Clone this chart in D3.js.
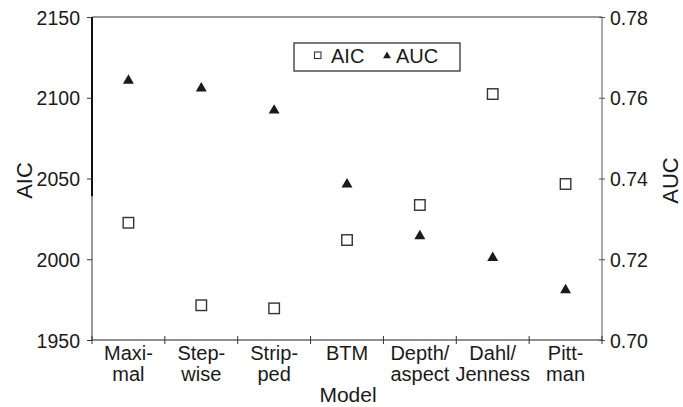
<!DOCTYPE html>
<html>
<head>
<meta charset="utf-8">
<script src="https://cdn.jsdelivr.net/npm/d3@7"></script>
<style>
  html, body { margin: 0; padding: 0; background: #fff; }
  svg { display: block; font-family: "Liberation Sans", Arial, Helvetica, sans-serif; }
</style>
</head>
<body>
<svg id="chart" width="683" height="407"></svg>
<script>
const categories = ["Maxi-\nmal", "Step-\nwise", "Strip-\nped", "BTM", "Depth/\naspect", "Dahl/\nJenness", "Pitt-\nman"];
const aicValues = [2022.6, 1971.5, 1969.6, 2011.9, 2033.6, 2102.3, 2046.6];
const aucValues = [0.7645, 0.7626, 0.7571, 0.7388, 0.7260, 0.7206, 0.7126];
const aicTicks = [1950, 2000, 2050, 2100, 2150];
const aucTicks = [0.70, 0.72, 0.74, 0.76, 0.78];

const svg = d3.select("#chart");
const L = 92, R = 602, T = 17, B = 340;
const ink = "#1a1a1a";

const x = d3.scaleBand().domain(categories).range([L, R]).padding(0);
const yAIC = d3.scaleLinear().domain([1950, 2150]).range([B, T]);
const yAUC = d3.scaleLinear().domain([0.70, 0.78]).range([B, T]);

// frame
svg.append("line").attr("x1", L).attr("x2", R).attr("y1", T).attr("y2", T).attr("stroke", "#333").attr("stroke-width", 1);
svg.append("line").attr("x1", L).attr("x2", R).attr("y1", B).attr("y2", B).attr("stroke", "#222").attr("stroke-width", 1.2);
svg.append("line").attr("x1", R).attr("x2", R).attr("y1", T).attr("y2", B).attr("stroke", "#555").attr("stroke-width", 1);
svg.append("line").attr("x1", L).attr("x2", L).attr("y1", T).attr("y2", B).attr("stroke", "#333").attr("stroke-width", 1);
// darker upper part of left axis as in reference
svg.append("line").attr("x1", L).attr("x2", L).attr("y1", T).attr("y2", yAIC(2039)).attr("stroke", "#111").attr("stroke-width", 2);

// left axis
const gl = svg.append("g").attr("transform", `translate(${L},0)`)
  .call(d3.axisLeft(yAIC).tickValues(aicTicks).tickFormat(d3.format("d")).tickSize(5).tickPadding(7));
gl.select(".domain").remove();
gl.selectAll(".tick line").attr("stroke", "#333");
gl.selectAll(".tick text").attr("fill", ink).style("font-size", "19.5px").attr("dy", "0.36em");

// right axis
const gr = svg.append("g").attr("transform", `translate(${R},0)`)
  .call(d3.axisRight(yAUC).tickValues(aucTicks).tickFormat(d3.format(".2f")).tickSize(3).tickPadding(5));
gr.select(".domain").remove();
gr.selectAll(".tick line").attr("x1", -3).attr("x2", 3).attr("stroke", "#555");
gr.selectAll(".tick text").attr("fill", ink).style("font-size", "19.5px").attr("dy", "0.36em");

// bottom axis: boundary ticks crossing the axis
svg.append("g").selectAll("line").data(categories.concat([null])).join("line")
  .attr("x1", d => d === null ? R : x(d)).attr("x2", d => d === null ? R : x(d))
  .attr("y1", B - 4).attr("y2", B + 4).attr("stroke", "#333");

const gb = svg.append("g").attr("transform", `translate(0,${B})`)
  .call(d3.axisBottom(x).tickSize(0).tickPadding(0));
gb.select(".domain").remove();
gb.selectAll(".tick text").each(function(d) {
  const t = d3.select(this).text(null).attr("fill", ink).style("font-size", "20px").attr("y", 0).attr("dy", null);
  d.split("\n").forEach((line, i) => {
    t.append("tspan").attr("x", 0).attr("y", 20 + i * 21).text(line);
  });
});

// axis titles
svg.append("text").attr("transform", `translate(32,${(T + B) / 2 + 2}) rotate(-90)`)
  .attr("text-anchor", "middle").attr("fill", ink).style("font-size", "22px").text("AIC");
svg.append("text").attr("transform", `translate(678,${(T + B) / 2 + 2}) rotate(-90)`)
  .attr("text-anchor", "middle").attr("fill", ink).style("font-size", "22px").text("AUC");
svg.append("text").attr("x", (L + R) / 2 + 1).attr("y", 402)
  .attr("text-anchor", "middle").attr("fill", ink).style("font-size", "21px").text("Model");

// markers
const sq = 10.5;
svg.append("g").selectAll("rect").data(aicValues).join("rect")
  .attr("x", (d, i) => x(categories[i]) + x.bandwidth() / 2 - sq / 2)
  .attr("y", d => yAIC(d) - sq / 2)
  .attr("width", sq).attr("height", sq)
  .attr("fill", "#fff").attr("stroke", "#333").attr("stroke-width", 1.4);

const tri = d3.symbol().type(d3.symbolTriangle).size(52);
svg.append("g").selectAll("path").data(aucValues).join("path")
  .attr("d", tri)
  .attr("transform", (d, i) => `translate(${x(categories[i]) + x.bandwidth() / 2},${yAUC(d) + 1})`)
  .attr("fill", ink);

// legend
const lg = svg.append("g");
lg.append("rect").attr("x", 294).attr("y", 43).attr("width", 166).attr("height", 28)
  .attr("fill", "#fff").attr("stroke", "#333").attr("stroke-width", 1.3);
lg.append("rect").attr("x", 314.5).attr("y", 52).attr("width", 6.5).attr("height", 6.5)
  .attr("fill", "#fff").attr("stroke", "#333").attr("stroke-width", 1.1);
lg.append("text").attr("x", 331).attr("y", 63).attr("fill", ink).style("font-size", "20px").text("AIC");
lg.append("path").attr("d", d3.symbol().type(d3.symbolTriangle).size(26))
  .attr("transform", "translate(387,56)").attr("fill", ink);
lg.append("text").attr("x", 396).attr("y", 63).attr("fill", ink).style("font-size", "20px").text("AUC");
</script>
</body>
</html>
